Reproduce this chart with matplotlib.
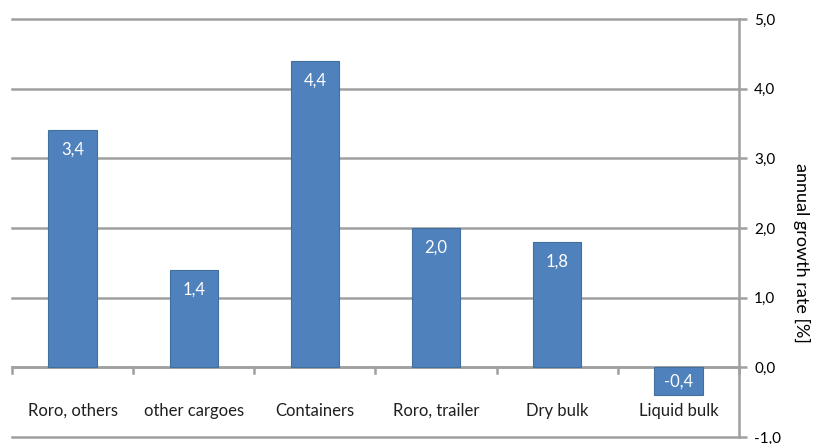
import matplotlib.pyplot as plt

# Data
categories = ["Roro, others", "other cargoes", "Containers", "Roro, trailer", "Dry bulk", "Liquid bulk"]
growth = [3.4, 1.4, 4.4, 2.0, 1.8, -0.4]
yticks = [-1, 0, 1, 2, 3, 4, 5]
ytick_labels = ["-1,0", "0,0", "1,0", "2,0", "3,0", "4,0", "5,0"]

plt.rcParams["font.family"] = ["Lato", "DejaVu Sans"]

fig = plt.figure(figsize=(8.19, 4.44), dpi=100)
ax = fig.add_axes([12 / 819, 7 / 444, 727 / 819, 418 / 444])

grid_col = "#a0a0a0"
x = list(range(len(categories)))
ax.bar(x, growth, width=0.4, color="#4F81BD", edgecolor="#41709f", linewidth=0.8, zorder=3)

ax.set_xlim(-0.5, len(categories) - 0.5)
ax.set_ylim(-1, 5)

# right y axis
ax.yaxis.tick_right()
ax.yaxis.set_label_position("right")
ax.set_yticks(yticks)
ax.set_yticklabels(ytick_labels, fontsize=11)
ax.tick_params(axis="y", direction="out", length=6, width=1.8, color=grid_col, pad=5)
ax.set_ylabel("annual growth rate [%]", rotation=-90, fontsize=13)
ax.yaxis.set_label_coords(1.098, 0.44)

# horizontal gridlines
ax.set_axisbelow(True)
for t in yticks:
    ax.axhline(t, color=grid_col, linewidth=1.8, zorder=0, clip_on=False)

for s in ["left", "top", "bottom"]:
    ax.spines[s].set_visible(False)
ax.spines["right"].set_color(grid_col)
ax.spines["right"].set_linewidth(1.8)

# zero line with category separators
ax.axhline(0, color=grid_col, linewidth=1.8, zorder=2)
ax.set_xticks([])
for b in range(len(categories) + 1):
    ax.plot([b - 0.5, b - 0.5], [0, -0.08], color=grid_col, linewidth=1.8, zorder=2, clip_on=False)

# category labels
for i, c in enumerate(categories):
    ax.text(i, -0.62, c, ha="center", va="center", fontsize=12, color="#1f1f1f")

# value labels
for i, v in enumerate(growth):
    txt = f"{v:.1f}".replace(".", ",")
    if v >= 0:
        ax.annotate(txt, (i, v), xytext=(0, -14), textcoords="offset points",
                    ha="center", va="center", color="white", fontsize=12, zorder=4)
    else:
        ax.text(i, v / 2, txt, ha="center", va="center", color="white", fontsize=12, zorder=4)

fig.savefig("out.png", dpi=100)
